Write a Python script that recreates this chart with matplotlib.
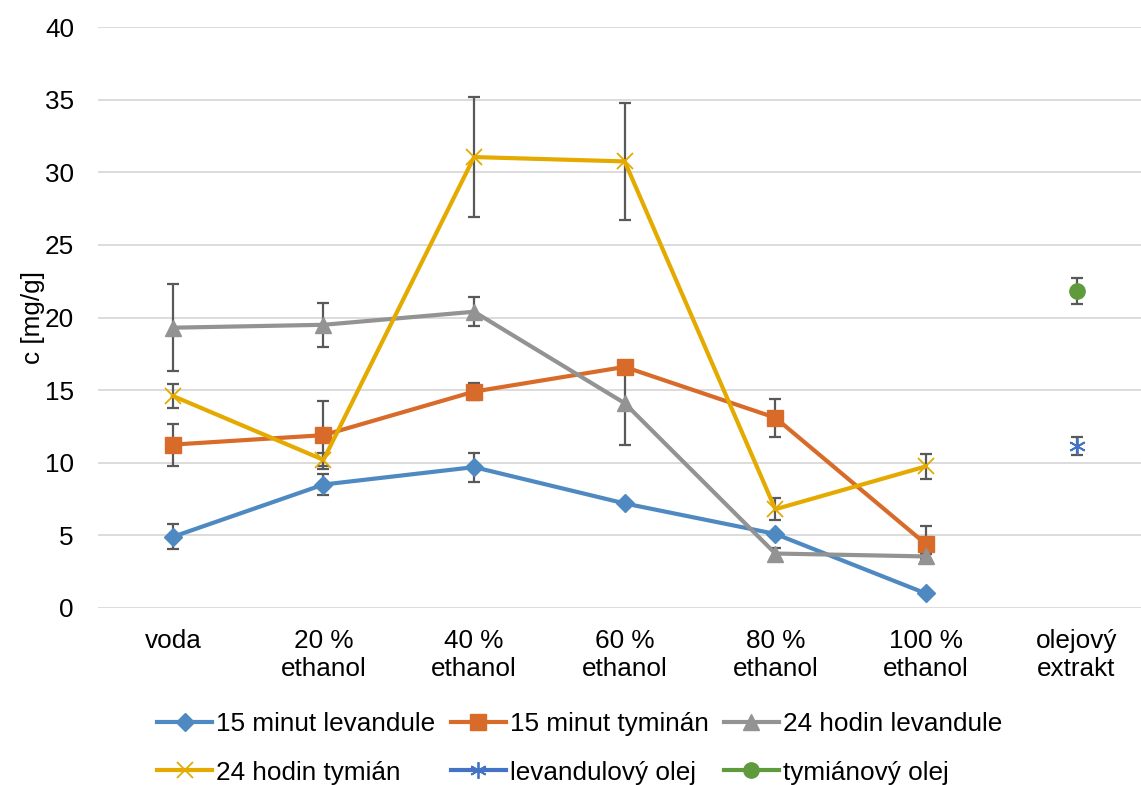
import numpy as np
import matplotlib.pyplot as plt

plt.rcParams['font.family'] = ['Liberation Sans', 'DejaVu Sans']
plt.rcParams['font.size'] = 18.8

categories = ['voda', '20 %\nethanol', '40 %\nethanol', '60 %\nethanol',
              '80 %\nethanol', '100 %\nethanol', 'olejový\nextrakt']

nan = np.nan
lev_15 = [4.9, 8.5, 9.7, 7.2, 5.1, 1.0, nan]
lev_15_err = [0.85, 0.7, 1.0, 0.0, 0.0, 0.0, nan]
tym_15 = [11.25, 11.9, 14.9, 16.6, 13.1, 4.4, nan]
tym_15_err = [1.45, 2.35, 0.6, 0.0, 1.3, 1.25, nan]
lev_24 = [19.3, 19.5, 20.4, 14.1, 3.75, 3.55, nan]
lev_24_err = [3.0, 1.5, 1.0, 2.9, 0.4, 0.15, nan]
tym_24 = [14.6, 10.2, 31.05, 30.75, 6.8, 9.75, nan]
tym_24_err = [0.8, 0.45, 4.15, 4.0, 0.77, 0.85, nan]
lev_oil = [nan, nan, nan, nan, nan, nan, 11.15]
lev_oil_err = [nan, nan, nan, nan, nan, nan, 0.6]
tym_oil = [nan, nan, nan, nan, nan, nan, 21.8]
tym_oil_err = [nan, nan, nan, nan, nan, nan, 0.9]

series = [
    ('15 minut levandule', lev_15, lev_15_err, '#4E8AC1', 'D', 9),
    ('15 minut tyminán', tym_15, tym_15_err, '#D86B2A', 's', 12),
    ('24 hodin levandule', lev_24, lev_24_err, '#939393', '^', 12),
    ('24 hodin tymián', tym_24, tym_24_err, '#E5AA00', 'x', 11),
    ('levandulový olej', lev_oil, lev_oil_err, '#4472C4', (6, 2, 0), 12),
    ('tymiánový olej', tym_oil, tym_oil_err, '#5F9A3C', 'o', 11),
]

fig = plt.figure(figsize=(11.41, 7.85), dpi=100)
ax = fig.add_axes([0.0855, 0.2255, 0.924, 0.740])

x = np.arange(len(categories))
handles = []
for name, vals, errs, color, marker, ms in series:
    ax.errorbar(x, vals, yerr=errs, fmt='none', ecolor='#595959',
                elinewidth=1.6, capsize=4.5, capthick=1.6, zorder=2)
    mew = 1.3 if marker in ('x', (6, 2, 0)) else 1
    line, = ax.plot(x, vals, color=color, lw=3, marker=marker, ms=ms,
                    mew=mew, label=name, zorder=3)
    handles.append(line)

ax.set_xlim(-0.5, 6.5)
ax.set_ylim(0, 40)
ax.set_yticks(range(0, 41, 5))
ax.set_xticks(x)
ax.set_xticklabels(categories, va='top', linespacing=1.2)
ax.tick_params(length=0)
ax.tick_params(axis='x', pad=15)
ax.tick_params(axis='y', pad=17)
ax.grid(axis='y', color='#D9D9D9', lw=1.3)
ax.set_axisbelow(True)
for s in ax.spines.values():
    s.set_visible(False)
ax.set_ylabel('c [mg/g]', labelpad=0)

# legend is filled column by column, so reorder to get row-wise entries
order = [0, 3, 1, 4, 2, 5]
fig.legend([handles[i] for i in order], [handles[i].get_label() for i in order],
           loc='center', bbox_to_anchor=(0.508, 0.047), ncol=3, frameon=False,
           handlelength=2.1, handletextpad=0.15, columnspacing=0.6,
           labelspacing=0.95)

fig.savefig('out.png', dpi=100)
